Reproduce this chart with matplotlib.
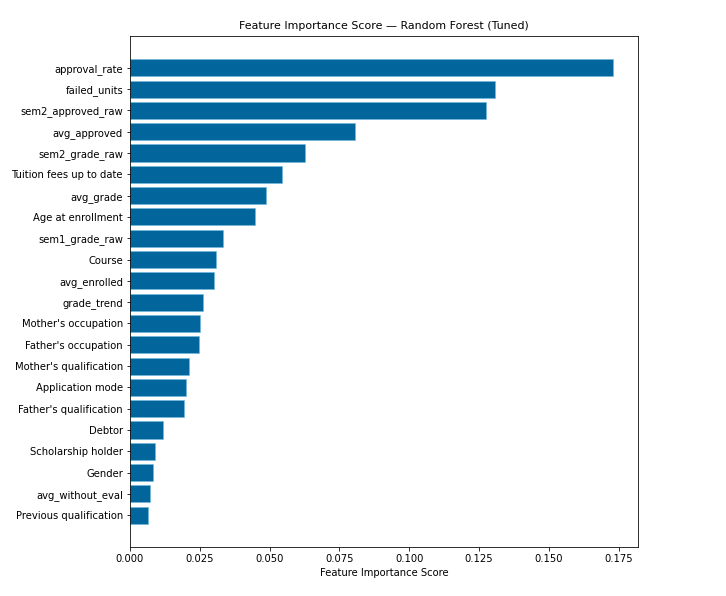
import numpy as np
import matplotlib
matplotlib.use("Agg")
import matplotlib.pyplot as plt

features = [
    "approval_rate", "failed_units", "sem2_approved_raw", "avg_approved",
    "sem2_grade_raw", "Tuition fees up to date", "avg_grade", "Age at enrollment",
    "sem1_grade_raw", "Course", "avg_enrolled", "grade_trend",
    "Mother's occupation", "Father's occupation", "Mother's qualification",
    "Application mode", "Father's qualification", "Debtor",
    "Scholarship holder", "Gender", "avg_without_eval", "Previous qualification",
]
importance = [
    0.1731, 0.1307, 0.1276, 0.0804,
    0.0628, 0.0543, 0.0488, 0.0446,
    0.0334, 0.0308, 0.0299, 0.0263,
    0.0250, 0.0247, 0.0213,
    0.0202, 0.0192, 0.0117,
    0.0091, 0.0081, 0.0072, 0.0066,
]

# smallest at the bottom
feat = features[::-1]
vals = importance[::-1]

W, H, dpi = 726, 596, 72
fig = plt.figure(figsize=(W / dpi, H / dpi), dpi=dpi)
ax = fig.add_axes([130 / W, 1 - 547 / H, (638 - 130) / W, (547 - 36) / H])

ax.barh(feat, vals, color="#02659c", edgecolor="#6fb8dc", linewidth=0.6)
ax.set_xlim(0, 0.1819)
ax.set_xticks(np.arange(0, 0.176, 0.025))
ax.set_xticklabels([f"{t:.3f}" for t in np.arange(0, 0.176, 0.025)])
ax.tick_params(labelsize=10)
ax.set_xlabel("Feature Importance Score", fontsize=10)
ax.set_title("Feature Importance Score \u2014 Random Forest (Tuned)", fontsize=11, pad=7)

fig.savefig("out.png", dpi=dpi)
